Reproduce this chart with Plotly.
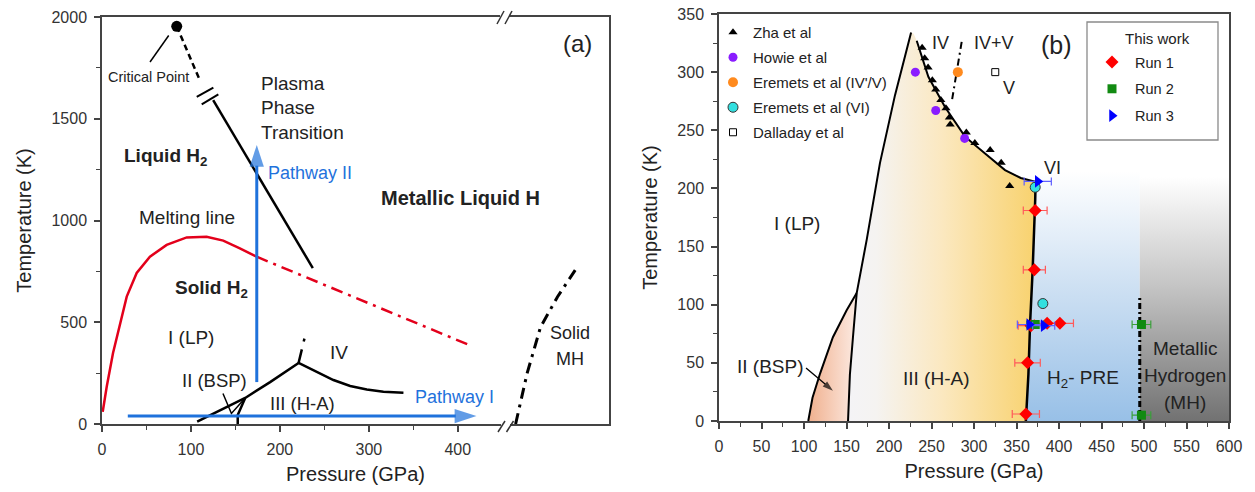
import plotly.graph_objects as go

W, H = 1255, 492
FONT = "Arial, Liberation Sans, Helvetica, sans-serif"
INK = "#222222"
BLUE = "#1f72dc"

def px(x):
    return x / W

def py(y):
    return 1 - y / H

# ---------------- Panel (a) data ----------------
crit_P, crit_T = [84], [1954]
crit_lead_P, crit_lead_T = [54, 75], [1779, 1909]
crit_dash_P, crit_dash_T = [84, 110], [1954, 1689]
brk1_P, brk1_T = [106.5, 125.2], [1607, 1653]
brk2_P, brk2_T = [112.1, 130.8], [1571, 1620]
plasma_P, plasma_T = [125, 237], [1591, 766]
melt_P = [0.8, 5.3, 12.4, 20.2, 27.8, 39, 53.9, 72.7, 95.2, 117.6, 136.3, 155, 173.8]
melt_T = [60, 183, 349, 496, 626, 742, 822, 880, 917, 920, 901, 863, 822]
melt_ext_P, melt_ext_T = [173.8, 413], [822, 388]
a_I_P, a_I_T = [107, 161, 189, 221], [12, 128, 206, 300]
a_II_P, a_II_T = [152.6, 152.6, 161], [0, 44, 128]
a_lead_P, a_lead_T = [136, 145.5, 161], [150, 52, 128]
a_IV_P = [221, 241.5, 260.2, 279, 297.7, 316.4, 338.9]
a_IV_T = [300, 257, 216, 187, 170, 159, 154]
a_up_P, a_up_T = [221, 229], [300, 445]
mh_P, mh_T = [465, 478, 493, 512, 532], [0, 250, 476, 624, 756]
path1_P, path1_T = [29, 421], [39, 39]
path2_P, path2_T = [174, 174], [206, 1371]

# ---------------- Panel (b) data ----------------
b_I_II_P, b_I_II_T = [105, 110, 119, 134, 150, 162], [0, 20, 41, 72, 95, 110]
b_II_III_P, b_II_III_T = [151.8, 154, 157.6, 162], [0, 40, 72, 110]
b_I_III_P, b_I_III_T = [162, 173.8, 189.4, 207, 226], [110, 156, 222, 280, 334]
b_IV_P = [229, 232.6, 246.3, 265.9, 289.4, 313, 336.5, 355, 372]
b_IV_T = [333, 327, 296, 270, 244.5, 230, 215.8, 209, 205.8]
b_PRE_P, b_PRE_T = [361, 364, 366, 369, 372, 372.5], [0, 40, 84, 130, 190, 205.8]
b_IVV_P, b_IVV_T = [285.5, 273.8], [326, 274.5]
b_MH_P, b_MH_T = [495, 495], [0, 107]
bsp_arrow_P, bsp_arrow_T = [102.4, 134], [45.6, 26]

zha_P = [239, 242, 246, 251, 255, 261, 267, 271, 272, 291, 301, 319, 332, 342]
zha_T = [321, 312, 304, 293, 285, 276, 269, 261, 255, 248, 239, 233, 222, 202]
howie_P, howie_T = [231, 255, 289], [300, 267, 243]
er45_P, er45_T = [281], [300]
er6_P, er6_T = [372, 381], [201, 101]
dal_P, dal_T = [325], [300]
run1_P = [372, 371, 367, 386, 401, 363, 361]
run1_T = [181, 130, 82, 84, 84, 50, 6]
run1_e = [14, 13, 15, 15, 16, 15, 16]
run2_P, run2_T, run2_e = [372, 497, 497], [83, 83, 5], [10, 11, 11]
run3_P, run3_T, run3_e = [375, 365, 382], [206, 83, 82], [16, 14, 13]

# region outlines for shaded phases (built from the boundary lists)
regII_P = b_I_II_P + b_II_III_P[::-1]
regII_T = b_I_II_T + b_II_III_T[::-1]
regIII_P = b_II_III_P + b_I_III_P[1:] + b_IV_P + b_PRE_P[::-1]
regIII_T = b_II_III_T + b_I_III_T[1:] + b_IV_T + b_PRE_T[::-1]
regPRE_P = b_PRE_P[:-1] + [373, 495, 495]
regPRE_T = b_PRE_T[:-1] + [215, 215, 0]
regMH_P, regMH_T = [495, 600, 600, 495], [0, 0, 210, 210]

fig = go.Figure()

def line(xs, ys, ax, color="black", width=2, dash="solid"):
    fig.add_trace(go.Scatter(x=xs, y=ys, mode="lines", xaxis=ax[0], yaxis=ax[1],
                             line=dict(color=color, width=width, dash=dash),
                             showlegend=False, hoverinfo="skip"))

def arrow(xs, ys, ax, color, width, head, sym="arrow"):
    fig.add_trace(go.Scatter(x=xs, y=ys, mode="lines+markers", xaxis=ax[0], yaxis=ax[1],
                             line=dict(color=color, width=width),
                             marker=dict(symbol=sym, angleref="previous", size=[0, head],
                                         color=color, line=dict(width=0)),
                             showlegend=False, hoverinfo="skip", cliponaxis=False))

A = ("x", "y")
B = ("x2", "y2")

# ---- panel (a) ----
line(crit_lead_P, crit_lead_T, A, width=1.5)
line(crit_dash_P, crit_dash_T, A, width=2.5, dash="6px,4px")
line(brk1_P, brk1_T, A, width=2)
line(brk2_P, brk2_T, A, width=2)
line(plasma_P, plasma_T, A, width=2.5)
line(melt_P, melt_T, A, color="#e3001b", width=2.5)
line(melt_ext_P, melt_ext_T, A, color="#e3001b", width=2.5, dash="12px,6px,3px,6px")
line(a_I_P, a_I_T, A, width=2.5)
line(a_II_P, a_II_T, A, width=2.5)
line(a_lead_P, a_lead_T, A, width=1.5)
line(a_IV_P, a_IV_T, A, width=2.5)
line(a_up_P, a_up_T, A, width=2.5, dash="14px,8px,3px,30px")
line(mh_P, mh_T, A, width=3, dash="11px,6px,3px,6px")
arrow(path1_P, path1_T, A, BLUE, 3, 23)
arrow(path2_P, path2_T, A, BLUE, 3, 23)
fig.add_trace(go.Scatter(x=crit_P, y=crit_T, mode="markers", xaxis="x", yaxis="y",
                         marker=dict(color="black", size=11), showlegend=False, cliponaxis=False))

# ---- panel (b) shaded regions ----
def region(xs, ys, kind, cs, start=None, stop=None):
    g = dict(type=kind, colorscale=cs)
    if start is not None:
        g["start"] = start
        g["stop"] = stop
    fig.add_trace(go.Scatter(x=xs, y=ys, mode="lines", fill="toself", xaxis="x2", yaxis="y2",
                             line=dict(width=0, color="rgba(0,0,0,0)"), fillgradient=g,
                             showlegend=False, hoverinfo="skip"))

region(regII_P, regII_T, "horizontal", [[0, "#f0b08e"], [1, "#fcebe3"]])
region(regIII_P, regIII_T, "horizontal",
       [[0, "#f4f3f6"], [0.15, "#f5f3f1"], [0.5, "#fbe8c0"], [1, "#f8d26e"]])
region(regPRE_P, regPRE_T, "vertical",
       [[0, "#98c0e7"], [0.55, "#cfe1f3"], [1, "#ffffff"]], 0, 215)
region(regMH_P, regMH_T, "vertical",
       [[0, "#727272"], [0.55, "#c4c4c4"], [1, "#ffffff"]], 0, 210)

line(b_I_II_P, b_I_II_T, B, width=2)
line(b_II_III_P, b_II_III_T, B, width=2)
line(b_I_III_P, b_I_III_T, B, width=2)
line(b_IV_P[1:], b_IV_T[1:], B, width=2)
line(b_PRE_P, b_PRE_T, B, width=2.5)
line(b_IVV_P, b_IVV_T, B, width=2, dash="7px,4px,2px,4px")
line(b_MH_P, b_MH_T, B, width=3, dash="6px,3px,2px,3px")
arrow(bsp_arrow_P, bsp_arrow_T, B, "black", 1.3, 11)

def pts(name, xs, ys, sym, color, size, legend, err=None, ecolor=None, outline=None, group=None):
    fig.add_trace(go.Scatter(
        x=xs, y=ys, mode="markers", name=name, xaxis="x2", yaxis="y2",
        marker=dict(symbol=sym, color=color, size=size,
                    line=dict(color=outline or color, width=1 if outline else 0)),
        error_x=dict(type="data", array=err, color=ecolor, thickness=1.2, width=4, visible=True) if err else None,
        legend=legend, legendgroup=group or name, cliponaxis=False))

pts("Zha et al", zha_P, zha_T, "triangle-up", "black", 8, "legend")
pts("Howie et al", howie_P, howie_T, "circle", "#8a1cff", 9, "legend")
pts("Eremets et al (IV'/V)", er45_P, er45_T, "circle", "#ff8a1e", 10, "legend")
pts("Eremets et al (VI)", er6_P, er6_T, "circle", "#33e0e0", 10, "legend", outline="#333333")
pts("Dalladay et al", dal_P, dal_T, "square", "white", 7, "legend", outline="black")
pts("Run 1", run1_P, run1_T, "diamond", "#ff0000", 10, "legend2", run1_e, "#ff5a5a")
pts("Run 2", run2_P, run2_T, "square", "#128a12", 9, "legend2", run2_e, "#3aa03a")
pts("Run 3", run3_P, run3_T, "triangle-right", "#0000ff", 11, "legend2", run3_e, "#6060ff")

# ---------------- annotations ----------------
ann = []

def txt(x, y, s, size, bold=False, color=INK, xanchor="center"):
    if bold:
        s = "<b>" + s + "</b>"
    ann.append(dict(x=px(x), y=py(y), xref="paper", yref="paper", text=s, showarrow=False,
                    xanchor=xanchor, yanchor="middle",
                    font=dict(family=FONT, size=size, color=color)))

# panel (a)
txt(148, 77, "Critical Point", 14.5)
txt(259, 83, "Plasma", 19, xanchor="left")
txt(259, 108, "Phase", 19, xanchor="left")
txt(259, 133, "Transition", 19, xanchor="left")
txt(122, 157, "Liquid H<sub>2</sub>", 19, bold=True, xanchor="left")
txt(266, 173, "Pathway II", 18, color=BLUE, xanchor="left")
txt(460, 198, "Metallic Liquid H", 20, bold=True)
txt(577, 43, "(a)", 24)
txt(187, 217, "Melting line", 19)
txt(173, 289, "Solid H<sub>2</sub>", 19, bold=True, xanchor="left")
txt(191, 337, "I (LP)", 19)
txt(215, 380, "II (BSP)", 18.5)
txt(268, 403, "III (H-A)", 18.5, xanchor="left")
txt(339, 352, "IV", 19)
txt(413, 397, "Pathway I", 18, color=BLUE, xanchor="left")
txt(570, 333, "Solid", 18)
txt(570, 359, "MH", 18)

# panel (b)
txt(940, 43, "IV", 18)
txt(994, 43, "IV+V", 18)
txt(1009, 88, "V", 18)
txt(1056, 45, "(b)", 25)
txt(1052, 168, "VI", 18)
txt(797, 223, "I (LP)", 19)
txt(770, 366, "II (BSP)", 19)
txt(936, 378, "III (H-A)", 19)
txt(1083, 379, "H<sub>2</sub>- PRE", 19)
txt(1185, 348, "Metallic", 19)
txt(1185, 375, "Hydrogen", 19)
txt(1185, 402, "(MH)", 19)
txt(1157, 38, "This work", 15)

# ---------------- shapes (axis breaks, legend box) ----------------
shapes = []

def seg(x0, y0, x1, y1, color="#333333", width=1.5):
    shapes.append(dict(type="line", xref="paper", yref="paper", x0=px(x0), y0=py(y0),
                       x1=px(x1), y1=py(y1), line=dict(color=color, width=width), layer="above"))

def wrect(x0, y0, x1, y1):
    shapes.append(dict(type="rect", xref="paper", yref="paper", x0=px(x0), y0=py(y0),
                       x1=px(x1), y1=py(y1), line=dict(width=0), fillcolor="white", layer="above"))

wrect(501, 421, 510, 428)
seg(498, 432, 505, 421)
seg(506.5, 432, 513.5, 421)
wrect(500, 14, 509, 21)
seg(497, 24, 504, 11)
seg(505, 24, 512, 11)
shapes.append(dict(type="rect", xref="paper", yref="paper", x0=px(1087), y0=py(140),
                   x1=px(1218), y1=py(22), line=dict(color="#8a8a8a", width=1.3),
                   fillcolor="rgba(0,0,0,0)", layer="above"))

axis_common = dict(showline=True, linecolor="#444444", linewidth=1.5, mirror=True,
                   ticks="outside", ticklen=6, tickwidth=1.5, tickcolor="#444444",
                   showgrid=False, zeroline=False, automargin=False,
                   tickfont=dict(family=FONT, size=16, color="#333333"))

fig.update_layout(
    width=W, height=H, autosize=False,
    margin=dict(l=0, r=0, t=0, b=0),
    paper_bgcolor="white", plot_bgcolor="white",
    font=dict(family=FONT, color=INK),
    xaxis=dict(domain=[px(102), px(609)], range=[0, 570], anchor="y",
               tickvals=[0, 100, 200, 300, 400], ticklabelstandoff=4,
               minor=dict(tickvals=[50, 150, 250, 350], ticklen=4, ticks="outside",
                          tickcolor="#444444", tickwidth=1.2),
               title=dict(text="Pressure (GPa)", font=dict(size=20, family=FONT, color=INK), standoff=10),
               **axis_common),
    yaxis=dict(domain=[py(424), py(17)], range=[0, 2000], anchor="x",
               tickvals=[0, 500, 1000, 1500, 2000], ticklabelstandoff=4,
               minor=dict(tickvals=[250, 750, 1250, 1750], ticklen=4, ticks="outside",
                          tickcolor="#444444", tickwidth=1.2),
               title=dict(text="Temperature (K)", font=dict(size=20, family=FONT, color=INK), standoff=14),
               **axis_common),
    xaxis2=dict(domain=[px(719), px(1229)], range=[0, 600], anchor="y2",
                tick0=0, dtick=50, ticklabelstandoff=4,
                minor=dict(dtick=25, ticklen=4, ticks="outside", tickcolor="#444444", tickwidth=1.2),
                title=dict(text="Pressure (GPa)", font=dict(size=20, family=FONT, color=INK), standoff=10),
                **axis_common),
    yaxis2=dict(domain=[py(421), py(14)], range=[0, 350], anchor="x2",
                tick0=0, dtick=50, ticklabelstandoff=4,
                minor=dict(dtick=25, ticklen=4, ticks="outside", tickcolor="#444444", tickwidth=1.2),
                title=dict(text="Temperature (K)", font=dict(size=20, family=FONT, color=INK), standoff=14),
                **axis_common),
    legend=dict(x=px(713), y=py(16), xanchor="left", yanchor="top", bgcolor="rgba(0,0,0,0)",
                borderwidth=0, font=dict(family=FONT, size=15, color=INK), tracegroupgap=2.5,
                traceorder="grouped", itemsizing="trace"),
    legend2=dict(x=px(1089), y=py(46), xanchor="left", yanchor="top", bgcolor="rgba(0,0,0,0)",
                 borderwidth=0, font=dict(family=FONT, size=14.5, color=INK), tracegroupgap=5,
                 traceorder="grouped", itemsizing="trace", itemwidth=36),
    annotations=ann,
    shapes=shapes,
)

fig.write_html("out.html")
